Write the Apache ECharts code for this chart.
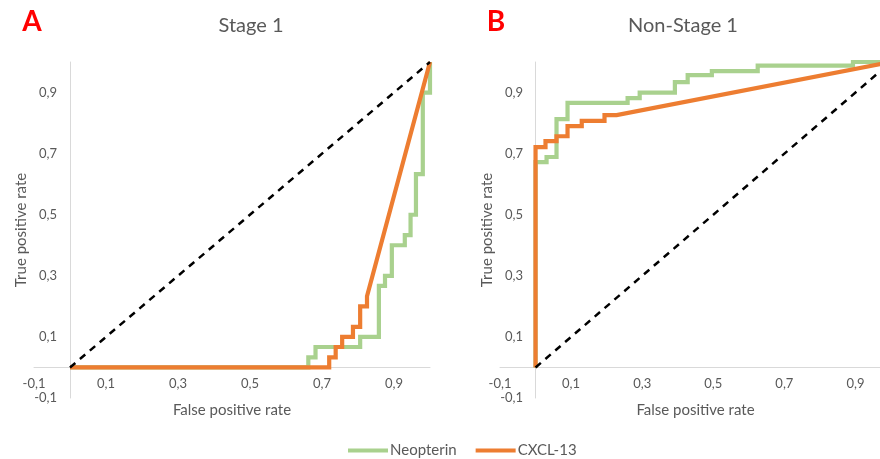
<!DOCTYPE html>
<html>
<head>
<meta charset="utf-8">
<script src="https://cdn.jsdelivr.net/npm/echarts@6/dist/echarts.min.js"></script>
<style>
html,body{margin:0;padding:0;background:#fff;}
#c{width:880px;height:459px;}
</style>
</head>
<body>
<div id="c"></div>
<script>
// Panel A (Stage 1)
const fprA_neo = [0, 0.662, 0.662, 0.682, 0.682, 0.806, 0.806, 0.858, 0.858, 0.875, 0.875, 0.894, 0.894, 0.93, 0.93, 0.946, 0.946, 0.961, 0.961, 0.98, 0.98, 1, 1];
const tprA_neo = [0, 0, 0.033, 0.033, 0.067, 0.067, 0.1, 0.1, 0.267, 0.267, 0.3, 0.3, 0.4, 0.4, 0.433, 0.433, 0.5, 0.5, 0.633, 0.633, 0.9, 0.9, 1];
const fprA_cx = [0, 0.72, 0.72, 0.738, 0.738, 0.756, 0.756, 0.786, 0.786, 0.806, 0.806, 0.825, 0.825, 1];
const tprA_cx = [0, 0, 0.033, 0.033, 0.067, 0.067, 0.1, 0.1, 0.133, 0.133, 0.2, 0.2, 0.233, 1];
// Panel B (Non-Stage 1)
const fprB_neo = [0, 0, 0.031, 0.031, 0.059, 0.059, 0.09, 0.09, 0.259, 0.259, 0.293, 0.293, 0.392, 0.392, 0.428, 0.428, 0.496, 0.496, 0.625, 0.625, 0.893, 0.893, 1];
const tprB_neo = [0, 0.672, 0.672, 0.689, 0.689, 0.813, 0.813, 0.866, 0.866, 0.882, 0.882, 0.9, 0.9, 0.934, 0.934, 0.957, 0.957, 0.97, 0.97, 0.988, 0.988, 1, 1];
const fprB_cx = [0, 0, 0.028, 0.028, 0.059, 0.059, 0.09, 0.09, 0.13, 0.13, 0.194, 0.194, 0.228, 1];
const tprB_cx = [0, 0.721, 0.721, 0.741, 0.741, 0.757, 0.757, 0.79, 0.79, 0.807, 0.807, 0.826, 0.826, 1];
const diagX = [0, 1];
const diagY = [0, 1];
const seriesNames = ['Neopterin', 'CXCL-13'];
const panelTitles = ['Stage 1', 'Non-Stage 1'];
const panelLetters = ['A', 'B'];
const xName = 'False positive rate';
const yName = 'True positive rate';

const GREEN = '#A9D18E', ORANGE = '#ED7D31', GRAY = '#595959';
const FONT = 'Lato';
const zip = (xs, ys) => xs.map((x, i) => [x, ys[i]]);
const fmt = v => { const k = Math.round(v * 10); if (k === 10 || k % 2 === 0) return ''; return (k / 10).toFixed(1).replace('.', ','); };

function xAx(gi) {
  return { gridIndex: gi, type: 'value', min: -0.1, max: 1.0, interval: 0.1,
    name: xName, nameLocation: 'middle', nameGap: 5, nameMoveOverlap: false,
    nameTextStyle: { color: GRAY, fontSize: 15, fontFamily: FONT },
    axisLine: { onZero: true, lineStyle: { color: '#D9D9D9', width: 1 } },
    axisTick: { show: false }, splitLine: { show: false },
    axisLabel: { formatter: fmt, color: GRAY, fontSize: 13, fontFamily: FONT, margin: -21, hideOverlap: false } };
}
function yAx(gi) {
  return { gridIndex: gi, type: 'value', min: -0.1, max: 1.0, interval: 0.1,
    name: yName, nameLocation: 'middle', nameGap: 5, nameMoveOverlap: false,
    nameTextStyle: { color: GRAY, fontSize: 15, fontFamily: FONT },
    axisLine: { onZero: true, lineStyle: { color: '#D9D9D9', width: 1 } },
    axisTick: { show: false }, splitLine: { show: false },
    axisLabel: { formatter: fmt, color: GRAY, fontSize: 13, fontFamily: FONT, margin: -23, hideOverlap: false } };
}
function lineS(name, data, color, gi, z) {
  return { name, type: 'line', xAxisIndex: gi, yAxisIndex: gi, data, showSymbol: false, symbol: 'none',
    lineStyle: { color, width: 4.2, join: 'miter' }, itemStyle: { color }, z };
}
function diagS(gi) {
  return { name: 'diag', type: 'line', xAxisIndex: gi, yAxisIndex: gi, data: zip(diagX, diagY), symbol: 'none',
    lineStyle: { color: '#000', width: 2.5, type: [7, 6] }, z: 5 };
}

const chart = echarts.init(document.getElementById('c'));
chart.setOption({
  animation: false,
  backgroundColor: '#fff',
  grid: [
    { left: 34, right: 450, top: 62, bottom: 61, outerBoundsMode: 'none', containLabel: false },
    { left: 500, right: -11, top: 62, bottom: 61, outerBoundsMode: 'none', containLabel: false }
  ],
  xAxis: [xAx(0), xAx(1)],
  yAxis: [yAx(0), yAx(1)],
  legend: {
    data: seriesNames, left: 343, top: 438, icon: 'rect', itemWidth: 40, itemHeight: 4, itemGap: 19,
    textStyle: { color: GRAY, fontSize: 15, fontFamily: FONT, padding: [0, 0, 0, -3] }
  },
  graphic: [
    { type: 'text', x: 32, y: 22, style: { text: panelLetters[0], fill: '#FF0000', font: 'bold 28px ' + FONT, textAlign: 'center', textVerticalAlign: 'middle' } },
    { type: 'text', x: 496, y: 22, style: { text: panelLetters[1], fill: '#FF0000', font: 'bold 28px ' + FONT, textAlign: 'center', textVerticalAlign: 'middle' } },
    { type: 'text', x: 251, y: 26, style: { text: panelTitles[0], fill: GRAY, font: '20px ' + FONT, textAlign: 'center', textVerticalAlign: 'middle' } },
    { type: 'text', x: 683, y: 26, style: { text: panelTitles[1], fill: GRAY, font: '20px ' + FONT, textAlign: 'center', textVerticalAlign: 'middle' } }
  ],
  series: [
    lineS(seriesNames[0], zip(fprA_neo, tprA_neo), GREEN, 0, 2),
    lineS(seriesNames[1], zip(fprA_cx, tprA_cx), ORANGE, 0, 3),
    diagS(0),
    lineS(seriesNames[0], zip(fprB_neo, tprB_neo), GREEN, 1, 2),
    lineS(seriesNames[1], zip(fprB_cx, tprB_cx), ORANGE, 1, 3),
    diagS(1)
  ]
});
</script>
</body>
</html>
